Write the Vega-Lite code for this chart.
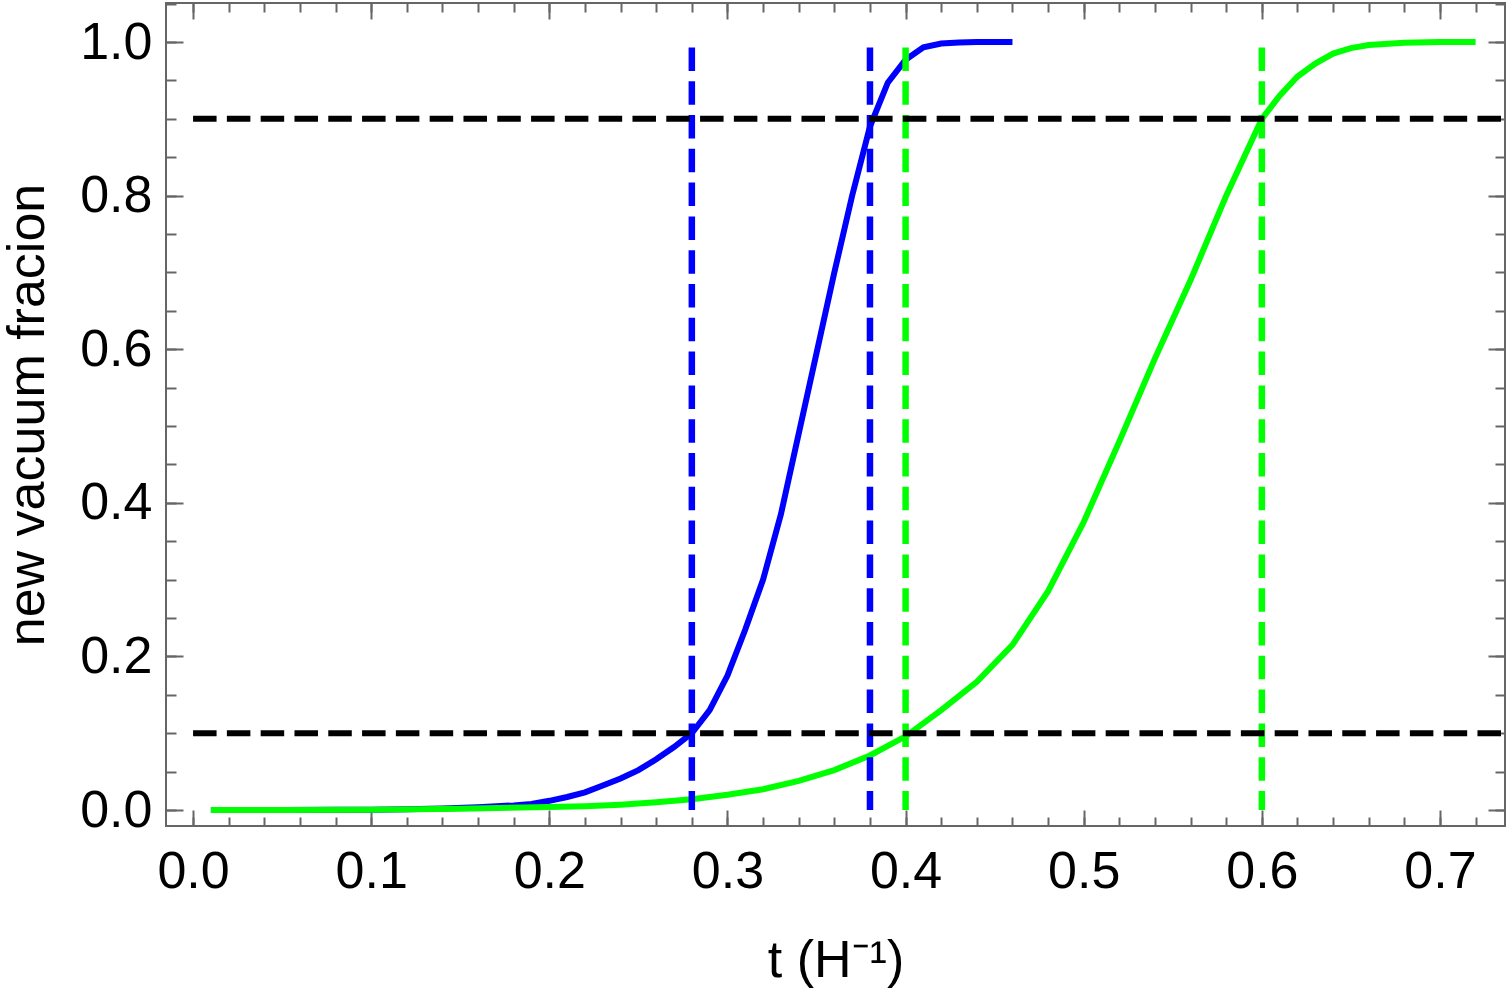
{
  "$schema": "https://vega.github.io/schema/vega-lite/v6.json",
  "width": 1339,
  "height": 823,
  "autosize": {"type": "none"},
  "padding": {"left": 166, "top": 3, "right": 3, "bottom": 168},
  "background": "white",
  "config": {
    "view": {"stroke": "#666666", "strokeWidth": 2},
    "axis": {
      "domain": false,
      "grid": false,
      "tickColor": "#666666",
      "tickWidth": 2,
      "labelFont": "Liberation Sans",
      "labelFontSize": 52,
      "labelColor": "#000000",
      "labelFlush": false,
      "labelOverlap": false,
      "titleFont": "Liberation Sans",
      "titleFontSize": 52,
      "titleFontWeight": "normal",
      "titleColor": "#000000"
    }
  },
  "datasets": {
    "curves": [
      {"series": "blue", "t": 0.01, "f": 0},
      {"series": "blue", "t": 0.05, "f": 0},
      {"series": "blue", "t": 0.08, "f": 0.0002},
      {"series": "blue", "t": 0.10, "f": 0.0005},
      {"series": "blue", "t": 0.12, "f": 0.001},
      {"series": "blue", "t": 0.14, "f": 0.002},
      {"series": "blue", "t": 0.16, "f": 0.0035},
      {"series": "blue", "t": 0.18, "f": 0.006},
      {"series": "blue", "t": 0.19, "f": 0.008},
      {"series": "blue", "t": 0.20, "f": 0.012},
      {"series": "blue", "t": 0.21, "f": 0.017},
      {"series": "blue", "t": 0.22, "f": 0.023},
      {"series": "blue", "t": 0.23, "f": 0.032},
      {"series": "blue", "t": 0.24, "f": 0.041},
      {"series": "blue", "t": 0.25, "f": 0.052},
      {"series": "blue", "t": 0.26, "f": 0.066},
      {"series": "blue", "t": 0.27, "f": 0.082},
      {"series": "blue", "t": 0.28, "f": 0.10},
      {"series": "blue", "t": 0.29, "f": 0.13},
      {"series": "blue", "t": 0.30, "f": 0.175},
      {"series": "blue", "t": 0.31, "f": 0.235},
      {"series": "blue", "t": 0.32, "f": 0.30},
      {"series": "blue", "t": 0.33, "f": 0.385},
      {"series": "blue", "t": 0.34, "f": 0.49},
      {"series": "blue", "t": 0.35, "f": 0.595},
      {"series": "blue", "t": 0.36, "f": 0.70},
      {"series": "blue", "t": 0.37, "f": 0.80},
      {"series": "blue", "t": 0.38, "f": 0.89},
      {"series": "blue", "t": 0.39, "f": 0.947},
      {"series": "blue", "t": 0.40, "f": 0.977},
      {"series": "blue", "t": 0.41, "f": 0.993},
      {"series": "blue", "t": 0.42, "f": 0.998},
      {"series": "blue", "t": 0.43, "f": 0.9995},
      {"series": "blue", "t": 0.44, "f": 1.0},
      {"series": "blue", "t": 0.46, "f": 1.0},
      {"series": "green", "t": 0.01, "f": 0},
      {"series": "green", "t": 0.05, "f": 0},
      {"series": "green", "t": 0.10, "f": 0.0005},
      {"series": "green", "t": 0.15, "f": 0.0015},
      {"series": "green", "t": 0.20, "f": 0.004},
      {"series": "green", "t": 0.22, "f": 0.005},
      {"series": "green", "t": 0.24, "f": 0.007},
      {"series": "green", "t": 0.26, "f": 0.01},
      {"series": "green", "t": 0.28, "f": 0.014},
      {"series": "green", "t": 0.30, "f": 0.02},
      {"series": "green", "t": 0.32, "f": 0.027},
      {"series": "green", "t": 0.34, "f": 0.038},
      {"series": "green", "t": 0.36, "f": 0.052},
      {"series": "green", "t": 0.38, "f": 0.071},
      {"series": "green", "t": 0.40, "f": 0.096},
      {"series": "green", "t": 0.42, "f": 0.13},
      {"series": "green", "t": 0.44, "f": 0.167},
      {"series": "green", "t": 0.46, "f": 0.215},
      {"series": "green", "t": 0.48, "f": 0.285},
      {"series": "green", "t": 0.50, "f": 0.375},
      {"series": "green", "t": 0.52, "f": 0.48},
      {"series": "green", "t": 0.54, "f": 0.588},
      {"series": "green", "t": 0.56, "f": 0.69},
      {"series": "green", "t": 0.58, "f": 0.80},
      {"series": "green", "t": 0.60, "f": 0.90},
      {"series": "green", "t": 0.61, "f": 0.93},
      {"series": "green", "t": 0.62, "f": 0.955},
      {"series": "green", "t": 0.63, "f": 0.972},
      {"series": "green", "t": 0.64, "f": 0.985},
      {"series": "green", "t": 0.65, "f": 0.992},
      {"series": "green", "t": 0.66, "f": 0.996},
      {"series": "green", "t": 0.68, "f": 0.999},
      {"series": "green", "t": 0.70, "f": 1.0},
      {"series": "green", "t": 0.72, "f": 1.0}
    ],
    "vlines": [
      {"t": 0.28, "c": "blue"},
      {"t": 0.38, "c": "blue"},
      {"t": 0.40, "c": "green"},
      {"t": 0.60, "c": "green"}
    ],
    "hlines": [
      {"v": 0.1},
      {"v": 0.9}
    ]
  },
  "layer": [
    {
      "data": {"name": "curves"},
      "transform": [{"filter": "datum.series === 'blue'"}],
      "mark": {"type": "line", "color": "#0000ff", "strokeWidth": 6, "clip": true},
      "encoding": {
        "x": {
          "field": "t",
          "type": "quantitative",
          "scale": {"domain": [-0.0152, 0.7365], "nice": false, "zero": false},
          "axis": {
            "orient": "bottom",
            "values": [0, 0.1, 0.2, 0.3, 0.4, 0.5, 0.6, 0.7],
            "format": ".1f",
            "tickSize": -16,
            "labelPadding": 36,
            "title": "t (H⁻¹)",
            "titlePadding": 38
          }
        },
        "y": {
          "field": "f",
          "type": "quantitative",
          "scale": {"domain": [-0.0208, 1.0508], "nice": false, "zero": false},
          "axis": {
            "orient": "left",
            "values": [0, 0.2, 0.4, 0.6, 0.8, 1.0],
            "format": ".1f",
            "tickSize": -17,
            "labelPadding": 31,
            "title": "new vacuum fracion",
            "titlePadding": 25
          }
        }
      }
    },
    {
      "data": {"name": "curves"},
      "transform": [{"filter": "datum.series === 'green'"}],
      "mark": {"type": "line", "color": "#00ff00", "strokeWidth": 6, "clip": true},
      "encoding": {
        "x": {
          "field": "t",
          "type": "quantitative",
          "scale": {"domain": [-0.0152, 0.7365], "nice": false, "zero": false},
          "axis": {
            "orient": "top",
            "values": [0, 0.02, 0.04, 0.06, 0.08, 0.1, 0.12, 0.14, 0.16, 0.18, 0.2, 0.22, 0.24, 0.26, 0.28, 0.3, 0.32, 0.34, 0.36, 0.38, 0.4, 0.42, 0.44, 0.46, 0.48, 0.5, 0.52, 0.54, 0.56, 0.58, 0.6, 0.62, 0.64, 0.66, 0.68, 0.7, 0.72],
            "labels": false,
            "tickSize": -9,
            "title": null
          }
        },
        "y": {
          "field": "f",
          "type": "quantitative",
          "scale": {"domain": [-0.0208, 1.0508], "nice": false, "zero": false},
          "axis": {
            "orient": "right",
            "values": [0, 0.05, 0.1, 0.15, 0.2, 0.25, 0.3, 0.35, 0.4, 0.45, 0.5, 0.55, 0.6, 0.65, 0.7, 0.75, 0.8, 0.85, 0.9, 0.95, 1.0, 1.05],
            "labels": false,
            "tickSize": -10,
            "title": null
          }
        }
      }
    },
    {
      "data": {"name": "vlines"},
      "mark": {"type": "rule", "strokeWidth": 6.5, "strokeDash": [23.5, 10.3], "strokeCap": "butt"},
      "encoding": {
        "x": {
          "field": "t",
          "type": "quantitative",
          "scale": {"domain": [-0.0152, 0.7365], "nice": false, "zero": false},
          "axis": {
            "orient": "bottom",
            "values": [0, 0.02, 0.04, 0.06, 0.08, 0.1, 0.12, 0.14, 0.16, 0.18, 0.2, 0.22, 0.24, 0.26, 0.28, 0.3, 0.32, 0.34, 0.36, 0.38, 0.4, 0.42, 0.44, 0.46, 0.48, 0.5, 0.52, 0.54, 0.56, 0.58, 0.6, 0.62, 0.64, 0.66, 0.68, 0.7, 0.72],
            "labels": false,
            "tickSize": -9,
            "title": null
          }
        },
        "y": {
          "datum": 0.993,
          "type": "quantitative",
          "scale": {"domain": [-0.0208, 1.0508], "nice": false, "zero": false},
          "axis": {
            "orient": "left",
            "values": [0, 0.05, 0.1, 0.15, 0.2, 0.25, 0.3, 0.35, 0.4, 0.45, 0.5, 0.55, 0.6, 0.65, 0.7, 0.75, 0.8, 0.85, 0.9, 0.95, 1.0, 1.05],
            "labels": false,
            "tickSize": -10,
            "title": null
          }
        },
        "y2": {"datum": 0},
        "color": {
          "field": "c",
          "type": "nominal",
          "scale": {"domain": ["blue", "green"], "range": ["#0000ff", "#00ff00"]},
          "legend": null
        }
      }
    },
    {
      "data": {"name": "hlines"},
      "mark": {"type": "rule", "color": "#000000", "strokeWidth": 6, "strokeDash": [23.5, 10.3], "strokeCap": "butt", "clip": true},
      "encoding": {
        "y": {
          "field": "v",
          "type": "quantitative",
          "scale": {"domain": [-0.0208, 1.0508], "nice": false, "zero": false},
          "axis": {
            "orient": "right",
            "values": [0, 0.2, 0.4, 0.6, 0.8, 1.0],
            "labels": false,
            "tickSize": -17,
            "title": null
          }
        },
        "x": {
          "datum": 0,
          "type": "quantitative",
          "scale": {"domain": [-0.0152, 0.7365], "nice": false, "zero": false},
          "axis": {
            "orient": "top",
            "values": [0, 0.1, 0.2, 0.3, 0.4, 0.5, 0.6, 0.7],
            "labels": false,
            "tickSize": -16,
            "title": null
          }
        },
        "x2": {"datum": 0.7365}
      }
    }
  ],
  "resolve": {"axis": {"x": "independent", "y": "independent"}}
}
